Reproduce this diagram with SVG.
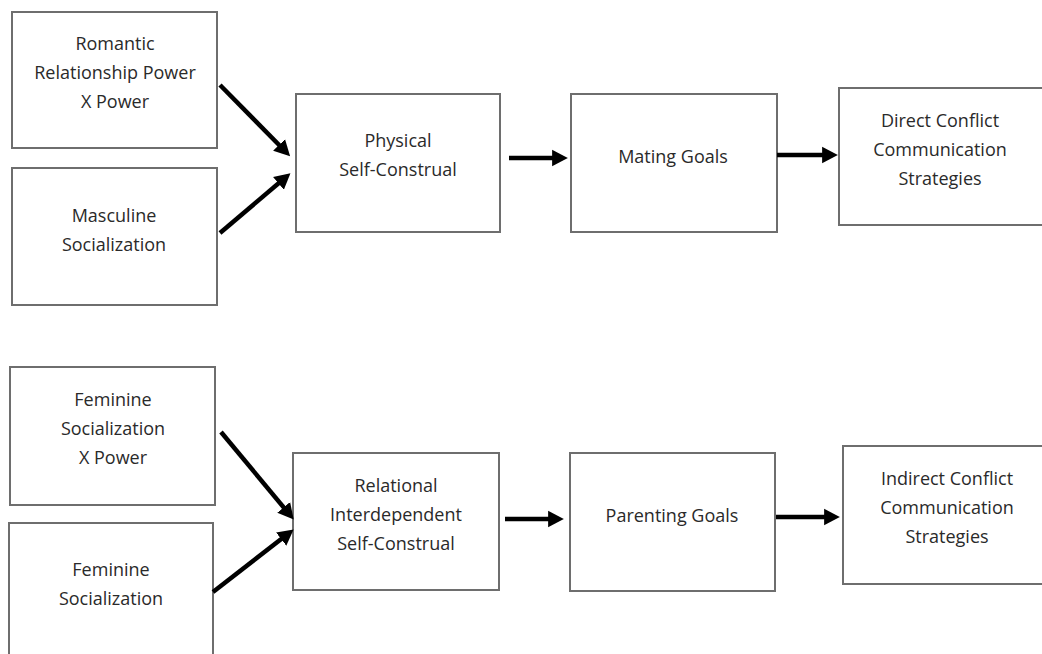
<svg xmlns="http://www.w3.org/2000/svg" width="1042" height="654" viewBox="0 0 1042 654">
<style>
.box{fill:#fff;stroke:#6e6e6e;stroke-width:2}
.t{font-family:"Open Sans","Liberation Sans",sans-serif;font-size:18px;fill:#2a2a2a;text-anchor:middle}
.c{stroke:#000;stroke-width:4.5;fill:none}
</style>
<defs>
<marker id="ah" markerWidth="4" markerHeight="4" refX="2.2" refY="2" orient="auto" markerUnits="strokeWidth">
<path d="M0,0.15 L3.5,2 L0,3.85 Z" fill="#000"/>
</marker>
</defs>
<rect width="1042" height="654" fill="#fff"/>
<g id="n1"><rect class="box" x="12" y="12" width="205" height="136"/>
<text class="t" x="115" y="50">Romantic</text><text class="t" x="115" y="79">Relationship Power</text><text class="t" x="115" y="108">X Power</text></g>
<g id="n2"><rect class="box" x="12" y="168" width="205" height="137"/>
<text class="t" x="114" y="222">Masculine</text><text class="t" x="114" y="251">Socialization</text></g>
<g id="n3"><rect class="box" x="296" y="94" width="204" height="138"/>
<text class="t" x="398" y="147">Physical</text><text class="t" x="398" y="176">Self-Construal</text></g>
<g id="n4"><rect class="box" x="571" y="94" width="206" height="138"/>
<text class="t" x="673" y="163">Mating Goals</text></g>
<g id="n5"><rect class="box" x="839" y="88" width="210" height="137"/>
<text class="t" x="940" y="127">Direct Conflict</text><text class="t" x="940" y="156">Communication</text><text class="t" x="940" y="185">Strategies</text></g>
<g id="n6"><rect class="box" x="10" y="367" width="205" height="138"/>
<text class="t" x="113" y="406">Feminine</text><text class="t" x="113" y="435">Socialization</text><text class="t" x="113" y="464">X Power</text></g>
<g id="n7"><rect class="box" x="9" y="523" width="204" height="140"/>
<text class="t" x="111" y="576">Feminine</text><text class="t" x="111" y="605">Socialization</text></g>
<g id="n8"><rect class="box" x="293" y="453" width="206" height="137"/>
<text class="t" x="396" y="492">Relational</text><text class="t" x="396" y="521">Interdependent</text><text class="t" x="396" y="550">Self-Construal</text></g>
<g id="n9"><rect class="box" x="570" y="453" width="205" height="138"/>
<text class="t" x="672" y="522">Parenting Goals</text></g>
<g id="n10"><rect class="box" x="843" y="446" width="210" height="138"/>
<text class="t" x="947" y="485">Indirect Conflict</text><text class="t" x="947" y="514">Communication</text><text class="t" x="947" y="543">Strategies</text></g>
<g id="connectors">
<line class="c" x1="220" y1="85" x2="286" y2="152" marker-end="url(#ah)"/>
<line class="c" x1="220" y1="233" x2="286" y2="177" marker-end="url(#ah)"/>
<line class="c" x1="509" y1="158" x2="562" y2="158" marker-end="url(#ah)"/>
<line class="c" x1="777" y1="155" x2="832" y2="155" marker-end="url(#ah)"/>
<line class="c" x1="221" y1="432" x2="290" y2="515" marker-end="url(#ah)"/>
<line class="c" x1="213" y1="592" x2="289" y2="533" marker-end="url(#ah)"/>
<line class="c" x1="505" y1="519" x2="558" y2="519" marker-end="url(#ah)"/>
<line class="c" x1="776" y1="517" x2="834" y2="517" marker-end="url(#ah)"/>
</g>
</svg>
